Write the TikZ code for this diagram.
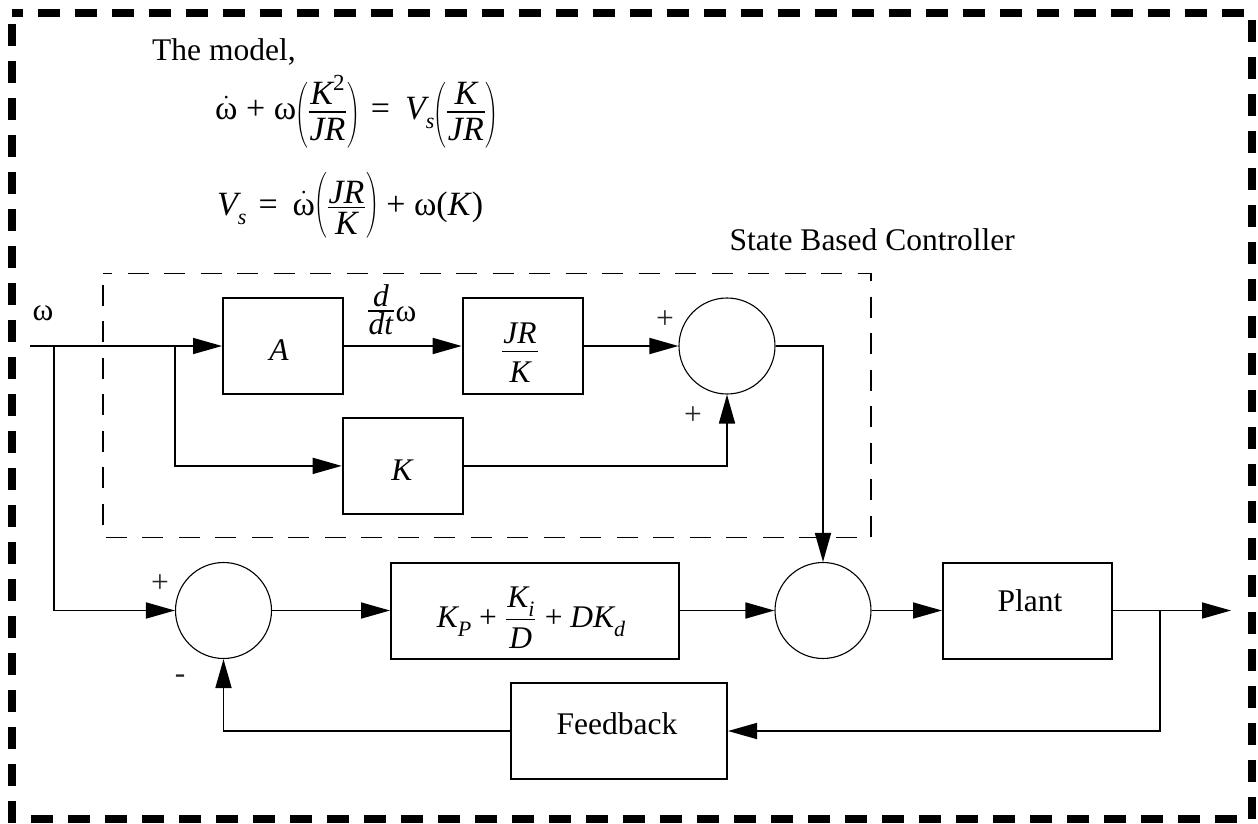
\RequirePackage{fix-cm}
\documentclass[tikz,border=0pt]{standalone}
\usepackage{amsmath}
\usepackage{graphicx}
\usepackage{fontspec}
\setmainfont{Liberation Serif}
\usetikzlibrary{arrows.meta}

% omega with a dot
\newcommand{\dotom}{$\dot{\text{ω}}$}
% lowered small italic index
\newcommand{\sub}[1]{\raisebox{-9pt}{\fontsize{22}{22}\selectfont\itshape #1}}
% tall thin bracket of fixed advance: glyph, vertical shift
\newcommand{\tparen}[2]{\makebox[11pt][c]{\raisebox{#2}{\scalebox{0.7}[1.1]{$\Big#1$}}}}
% stacked fraction: [bar height]{numerator raise}{denominator drop}{num}{den}
\newcommand{\ffrac}[5][7.9pt]{%
  \begingroup
  \setbox0=\hbox{#4}\setbox2=\hbox{#5}%
  \dimen0=\wd0 \ifdim\wd2>\dimen0 \dimen0=\wd2\fi
  \advance\dimen0 by 2pt
  \hbox{\kern1.5pt
    \rlap{\hbox to\dimen0{\hss\raise#2\copy0\hss}}%
    \rlap{\hbox to\dimen0{\hss\lower#3\copy2\hss}}%
    \raise#1\hbox{\vrule width\dimen0 height .6pt depth .6pt}%
    \kern1.5pt}%
  \endgroup}

\tikzset{
  lbl/.style={font=\fontsize{31.5}{38}\selectfont, inner sep=0pt},
  eqn/.style={font=\fontsize{34}{41}\selectfont, inner sep=0pt, anchor=base west},
  signlbl/.style={font=\fontsize{31.5}{38}\selectfont, inner sep=0pt, text=black!85},
  blk/.style={draw, line width=2pt, inner sep=0pt},
  sumjn/.style={draw, circle, line width=1.1pt, minimum size=96pt, inner sep=0pt},
  sig/.style={line width=1.7pt, -{Triangle[length=29pt,width=16pt]}},
}
\begin{document}
\begin{tikzpicture}[x=1pt,y=-1pt]
\useasboundingbox (0,0) rectangle (1258,824);

% outer frame
\draw[line width=8pt, dash pattern=on 22pt off 15pt, dash phase=11pt]
  (11.5,13) -- (1251.5,13) -- (1251.5,819) -- (11.5,819) -- cycle;

% state based controller frame
\draw[line width=1.8pt, dash pattern=on 21pt off 15.5pt, dash phase=12pt]
  (103,273.5) -- (871,273.5) -- (871,537.5) -- (103,537.5) -- cycle;

% model equations
\node[lbl, anchor=base west] (title) at (152,61) {The model,};
\node[eqn] (eqa) at (215,120)
  {\dotom{} + ω\tparen{(}{-5pt}\ffrac{15pt}{21pt}{\itshape K\raisebox{14pt}{\fontsize{23}{23}\selectfont\upshape 2}}{\itshape JR}\tparen{)}{-5pt}\hspace{12pt}=\hspace{15pt}{\itshape V}\sub{s}\tparen{(}{-5pt}\ffrac{15pt}{21pt}{\itshape K}{\itshape JR}\tparen{)}{-5pt}};
\node[eqn] (eqb) at (217,215)
  {{\itshape V}\sub{s}\hspace{12pt}=\hspace{15pt}\dotom\tparen{(}{0pt}\ffrac{12pt}{19pt}{\itshape JR}{\itshape K}\tparen{)}{0pt} + ω(\textit{K})};
\node[lbl, anchor=base east] (ctl) at (1015,250) {State Based Controller};

% blocks
\node[blk, minimum width=120pt, minimum height=96pt] (A) at (283,346) {};
\node[lbl, anchor=base] (At) at (279,360) {\itshape A};
\node[blk, minimum width=120pt, minimum height=96pt] (JRK) at (522.7,346) {};
\node[lbl, anchor=base] (JRKt) at (520,359) {\ffrac{16pt}{23pt}{\itshape JR}{\itshape K}};
\node[blk, minimum width=120.6pt, minimum height=96.3pt] (Kb) at (403,465.9) {};
\node[lbl, anchor=base] (Kbt) at (402,480) {\itshape K};
\node[blk, minimum width=288pt, minimum height=96pt] (KP) at (535,610.5) {};
\node[lbl, anchor=base] (KPt) at (531,627)
  {{\itshape K}\sub{P} + \ffrac{20pt}{21pt}{{\itshape K}\sub{i}}{\itshape D} + {\itshape DK}\sub{d}};
\node[blk, minimum width=169pt, minimum height=96pt] (plant) at (1027.5,610.5) {};
\node[lbl, anchor=base] (plantt) at (1030,611) {Plant};
\node[blk, minimum width=216pt, minimum height=95.5pt] (fb) at (619,731) {};
\node[lbl, anchor=base] (fbt) at (617,734) {Feedback};

% summing junctions
\node[sumjn] (s1) at (727,346) {};
\node[sumjn] (s2) at (223.5,610.5) {};
\node[sumjn] (s3) at (823,610.5) {};

% signs
\node[signlbl] (p1) at (665,320) {+};
\node[signlbl] (p2) at (693,416) {+};
\node[signlbl] (p3) at (160,584) {+};
\node[signlbl] (m1) at (180,679) {-};

% input label, derivative label
\node[lbl] (wl) at (43,313) {ω};
\node[lbl, anchor=base west] (ddt) at (366,321) {\ffrac[10pt]{15pt}{13pt}{\itshape d}{\itshape dt}ω};

% junction points
\coordinate (win) at (30,346);
\coordinate (j1) at (54.3,346);
\coordinate (j2) at (175,346);
\coordinate (j3) at (1160,610.5);
\coordinate (out) at (1231,610.5);

% connectors
\draw[sig] (win) -- (A.west);
\draw[sig] (j1) |- (s2.west);
\draw[sig] (j2) |- (Kb.west);
\draw[sig] (A.east) -- (JRK.west);
\draw[sig] (JRK.east) -- (s1.west);
\draw[sig] (Kb.east) -| (s1.south);
\draw[sig] (s1.east) -| (s3.north);
\draw[sig] (s2.east) -- (KP.west);
\draw[sig] (KP.east) -- (s3.west);
\draw[sig] (s3.east) -- (plant.west);
\draw[sig] (plant.east) -- (out);
\draw[sig] (j3) |- (fb.east);
\draw[sig] (fb.west) -| (s2.south);
\end{tikzpicture}
\end{document}
